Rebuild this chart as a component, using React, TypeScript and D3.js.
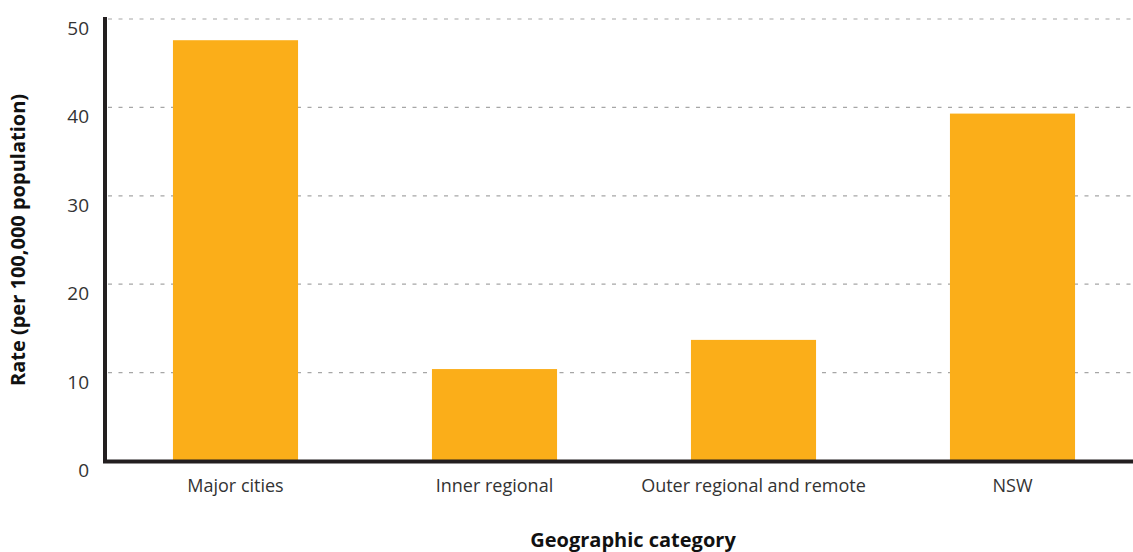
import { useEffect, useRef } from "react";
import * as d3 from "d3";

const categories = ["Major cities", "Inner regional", "Outer regional and remote", "NSW"];
const rates = [47.6, 10.4, 13.7, 39.3];
const yTicks = [0, 10, 20, 30, 40, 50];

export default function App() {
  const svgRef = useRef<SVGSVGElement | null>(null);

  useEffect(() => {
    if (!svgRef.current) return;
    const svg = d3.select(svgRef.current);
    svg.selectAll("*").remove();

    const width = 1133;
    const height = 552;
    const font = "'Open Sans', 'Noto Sans', sans-serif";

    const x = d3.scaleBand<string>().domain(categories).range([106, 1142]).padding(0);
    const barW = x.bandwidth() * 0.483;
    const y = d3.scaleLinear().domain([0, 50]).range([461, 19]);

    svg.attr("viewBox", `0 0 ${width} ${height}`);

    // grid
    svg.append("g")
      .selectAll("line")
      .data(yTicks.filter((d) => d > 0))
      .join("line")
      .attr("x1", 108).attr("x2", width)
      .attr("y1", (d) => y(d)).attr("y2", (d) => y(d))
      .attr("stroke", "#a6a6a6")
      .attr("stroke-width", 1.2)
      .attr("stroke-dasharray", "4,6.5");

    // y tick labels
    svg.append("g")
      .selectAll("text")
      .data(yTicks)
      .join("text")
      .attr("x", 89)
      .attr("y", (d) => y(d) + 16)
      .attr("text-anchor", "end")
      .attr("font-family", font)
      .attr("font-size", 19)
      .attr("fill", "#333")
      .text((d) => d);

    // bars
    svg.append("g")
      .selectAll("rect")
      .data(rates)
      .join("rect")
      .attr("x", (_, i) => (x(categories[i]) ?? 0) + (x.bandwidth() - barW) / 2)
      .attr("y", (d) => y(d))
      .attr("width", barW)
      .attr("height", (d) => y(0) - y(d))
      .attr("fill", "#fbae19");

    // axes lines
    svg.append("line")
      .attr("x1", 105).attr("x2", 105)
      .attr("y1", 17).attr("y2", 463)
      .attr("stroke", "#231f20").attr("stroke-width", 4);
    svg.append("line")
      .attr("x1", 103).attr("x2", width)
      .attr("y1", 461.5).attr("y2", 461.5)
      .attr("stroke", "#231f20").attr("stroke-width", 4);

    // category labels
    svg.append("g")
      .selectAll("text")
      .data(categories)
      .join("text")
      .attr("x", (d) => (x(d) ?? 0) + x.bandwidth() / 2)
      .attr("y", 492)
      .attr("text-anchor", "middle")
      .attr("font-family", font)
      .attr("font-size", 18)
      .attr("fill", "#333")
      .text((d) => d);

    svg.append("text")
      .attr("x", 633).attr("y", 547)
      .attr("text-anchor", "middle")
      .attr("font-family", font)
      .attr("font-size", 20)
      .attr("font-weight", "bold")
      .attr("fill", "#111")
      .text("Geographic category");

    svg.append("text")
      .attr("transform", "translate(25,240) rotate(-90)")
      .attr("text-anchor", "middle")
      .attr("font-family", font)
      .attr("font-size", 20)
      .attr("font-weight", "bold")
      .attr("fill", "#111")
      .text("Rate (per 100,000 population)");
  }, []);

  return (
    <svg
      ref={svgRef}
      width={1133}
      height={552}
      style={{ position: "absolute", left: 0, top: 0, display: "block" }}
    />
  );
}
